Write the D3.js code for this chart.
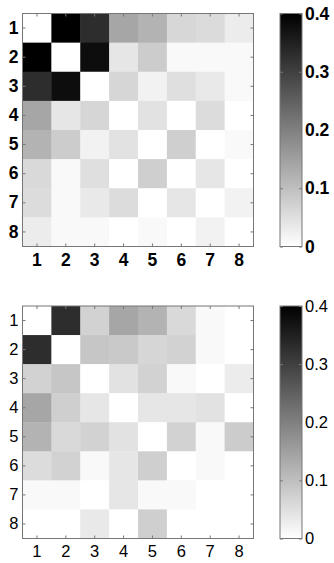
<!DOCTYPE html>
<html>
<head>
<meta charset="utf-8">
<script src="https://cdn.jsdelivr.net/npm/d3@7"></script>
<style>
  body { margin: 0; background: #fff; }
  svg { display: block; }
</style>
</head>
<body>
<div id="chart"></div>
<script>
// matrix labels 1..8
const labels = [1, 2, 3, 4, 5, 6, 7, 8];
const cbTicks = [0, 0.1, 0.2, 0.3, 0.4];

// top matrix (rows top->bottom)
const topValues = [
  [0.00, 0.40, 0.33, 0.14, 0.12, 0.063, 0.057, 0.03],
  [0.40, 0.00, 0.38, 0.04, 0.08, 0.01, 0.01, 0.01],
  [0.33, 0.38, 0.00, 0.065, 0.02, 0.05, 0.035, 0.01],
  [0.14, 0.04, 0.065, 0.00, 0.045, 0.00, 0.055, 0.00],
  [0.12, 0.08, 0.02, 0.045, 0.00, 0.075, 0.00, 0.01],
  [0.06, 0.01, 0.05, 0.00, 0.075, 0.00, 0.04, 0.00],
  [0.055, 0.01, 0.035, 0.055, 0.00, 0.04, 0.00, 0.02],
  [0.03, 0.01, 0.01, 0.00, 0.01, 0.00, 0.02, 0.00]
];

// bottom matrix
const bottomValues = [
  [0.00, 0.33, 0.07, 0.14, 0.12, 0.06, 0.01, 0.00],
  [0.33, 0.00, 0.09, 0.085, 0.065, 0.07, 0.01, 0.00],
  [0.07, 0.09, 0.00, 0.045, 0.07, 0.01, 0.00, 0.03],
  [0.14, 0.075, 0.04, 0.00, 0.04, 0.04, 0.045, 0.00],
  [0.12, 0.06, 0.07, 0.045, 0.00, 0.07, 0.01, 0.08],
  [0.055, 0.07, 0.01, 0.04, 0.075, 0.00, 0.01, 0.00],
  [0.01, 0.01, 0.00, 0.04, 0.01, 0.01, 0.00, 0.00],
  [0.00, 0.00, 0.035, 0.00, 0.075, 0.00, 0.00, 0.00]
];

const W = 334, H = 563;
const svg = d3.select("#chart").append("svg")
  .attr("width", W).attr("height", H);

const color = d3.scaleLinear().domain([0, 0.4]).range(["#ffffff", "#000000"]);

function panel(values, top, bottom, bold, id) {
  const left = 22.5, right = 253.5;
  const fw = bold ? "bold" : "normal";
  const fs = bold ? 17.5 : 16.5;
  const x = d3.scaleBand().domain(labels).range([left, right]);
  const y = d3.scaleBand().domain(labels).range([top, bottom]);
  const g = svg.append("g");

  const cells = values.flatMap((row, i) => row.map((v, j) => ({ r: labels[i], c: labels[j], v })));
  g.selectAll("rect.cell").data(cells).join("rect")
    .attr("class", "cell")
    .attr("x", d => x(d.c))
    .attr("y", d => y(d.r))
    .attr("width", x.bandwidth() + 0.5)
    .attr("height", y.bandwidth() + 0.5)
    .attr("fill", d => color(d.v));

  const axisStyle = sel => {
    sel.select(".domain").remove();
    sel.selectAll(".tick line").attr("stroke", "#777");
    sel.selectAll(".tick text")
      .attr("font-family", "'Liberation Sans', Arial, sans-serif")
      .attr("font-size", fs).attr("font-weight", fw).attr("fill", "#000");
  };

  g.append("g").attr("transform", `translate(${left},0)`)
    .call(d3.axisLeft(y).tickSize(-3).tickPadding(4)).call(axisStyle);
  g.append("g").attr("transform", `translate(0,${bottom})`)
    .call(d3.axisBottom(x).tickSize(-3).tickPadding(7)).call(axisStyle);
  g.append("g").attr("transform", `translate(${right},0)`)
    .call(d3.axisRight(y).tickSize(-3).tickFormat("")).call(axisStyle);
  g.append("g").attr("transform", `translate(0,${top})`)
    .call(d3.axisTop(x).tickSize(-3).tickFormat("")).call(axisStyle);

  g.append("rect")
    .attr("x", left).attr("y", top)
    .attr("width", right - left).attr("height", bottom - top)
    .attr("fill", "none").attr("stroke", "#777").attr("stroke-width", 1);

  // colorbar
  const cx0 = 280, cx1 = 302;
  const cy = d3.scaleLinear().domain([0, 0.4]).range([bottom, top]);
  const grad = svg.append("defs").append("linearGradient")
    .attr("id", id).attr("x1", 0).attr("y1", 1).attr("x2", 0).attr("y2", 0);
  grad.selectAll("stop").data(cbTicks).join("stop")
    .attr("offset", d => (d / 0.4))
    .attr("stop-color", d => color(d));
  g.append("rect")
    .attr("x", cx0).attr("y", top)
    .attr("width", cx1 - cx0).attr("height", bottom - top)
    .attr("fill", `url(#${id})`).attr("stroke", "#777");
  g.append("g").attr("transform", `translate(${cx1},0)`)
    .call(d3.axisRight(cy).tickValues(cbTicks).tickSize(-3).tickPadding(3)
      .tickFormat(d => d === 0 ? "0" : d3.format(".1f")(d)))
    .call(axisStyle);
  g.append("g").attr("transform", `translate(${cx0},0)`)
    .call(d3.axisLeft(cy).tickValues(cbTicks).tickSize(-3).tickFormat(""))
    .call(axisStyle);
}

panel(topValues, 13.5, 246.5, true, "cbTop");
panel(bottomValues, 306, 538.5, false, "cbBottom");
</script>
</body>
</html>
